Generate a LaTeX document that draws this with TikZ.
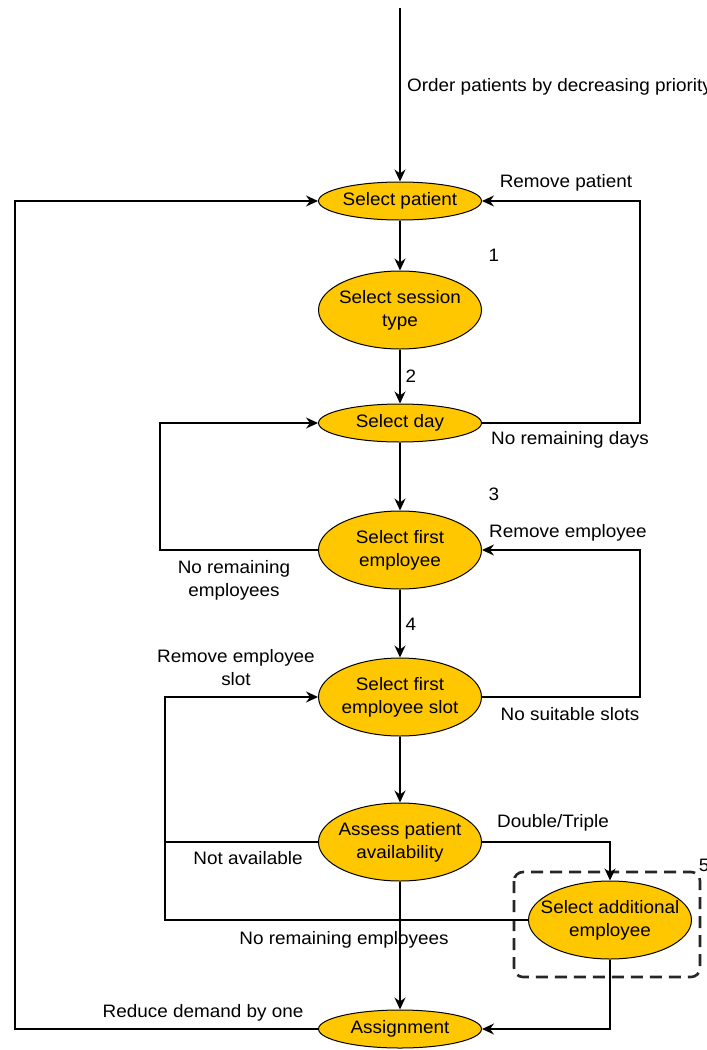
\documentclass[tikz,border=0pt]{standalone}
\usepackage{fontspec}
\setmainfont[FakeStretch=1.05]{Liberation Sans}
\usetikzlibrary{shapes.geometric,arrows.meta}
\definecolor{stepfill}{RGB}{255,199,0}
\begin{document}
\begin{tikzpicture}[x=1pt,y=-1pt,
  stage/.style={ellipse, draw=black, line width=1pt, fill=stepfill,
    minimum width=163pt, minimum height=78pt, inner sep=0pt},
  flat/.style={stage, minimum height=38pt},
  lbl/.style={font=\fontsize{18}{23}\selectfont, align=center, inner sep=0pt},
  flow/.style={line width=1.2pt, -{Stealth[length=12pt,width=11pt,inset=4pt]}},
  link/.style={line width=1.2pt},
  groupbox/.style={draw=black!85, line width=2.6pt, dash pattern=on 12pt off 7pt,
    rounded corners=9pt}]
\useasboundingbox (0,0) rectangle (707,1050);

% helper columns for the loop-back lines
\coordinate (src)  at (400,8);
\coordinate (rcol) at (640,0);
\coordinate (lcol) at (160,0);
\coordinate (mcol) at (165,0);
\coordinate (ocol) at (15,0);

% group frame around the optional step
\draw[groupbox] (514,872) rectangle (700,977);

% process steps
\node[flat]  (pat)  at (400,201)  {};
\node[stage] (ses)  at (400,310)  {};
\node[flat]  (day)  at (400,423)  {};
\node[stage] (emp)  at (400,550)  {};
\node[stage] (slot) at (400,697)  {};
\node[stage] (ass)  at (400,842)  {};
\node[stage] (add)  at (610,920)  {};
\node[flat]  (fin)  at (400,1029) {};

\node[lbl] (pat-t)  at (pat)  {Select patient};
\node[lbl] (ses-t)  at (ses)  {Select session\\type};
\node[lbl] (day-t)  at (day)  {Select day};
\node[lbl] (emp-t)  at (emp)  {Select first\\employee};
\node[lbl] (slot-t) at (slot) {Select first\\employee slot};
\node[lbl] (ass-t)  at (ass)  {Assess patient\\availability};
\node[lbl] (add-t)  at (add)  {Select additional\\employee};
\node[lbl] (fin-t)  at (fin)  {Assignment};

% main flow
\draw[flow] (src) -- (pat.north);
\draw[flow] (pat.south) -- (ses.north);
\draw[flow] (ses.south) -- (day.north);
\draw[flow] (day.south) -- (emp.north);
\draw[flow] (emp.south) -- (slot.north);
\draw[flow] (slot.south) -- (ass.north);
\draw[flow] (ass.south) -- (fin.north);

% loops
\draw[flow] (day.east) -- (day.east -| rcol) -- (pat.east -| rcol) -- (pat.east);
\draw[flow] (emp.west) -- (emp.west -| lcol) -- (day.west -| lcol) -- (day.west);
\draw[flow] (slot.east) -- (slot.east -| rcol) -- (emp.east -| rcol) -- (emp.east);
\draw[flow] (ass.west) -- (ass.west -| mcol) -- (slot.west -| mcol) -- (slot.west);
\draw[link] (add.west) -- (add.west -| mcol) -- (ass.west -| mcol);
\draw[flow] (ass.east) -| (add.north);
\draw[flow] (add.south) |- (fin.east);
\draw[flow] (fin.west) -- (fin.west -| ocol) -- (pat.west -| ocol) -- (pat.west);

% edge labels
\node[lbl, anchor=west] (l-order) at (407,87) {Order patients by decreasing priority};
\node[lbl] (l-rpat)  at (566,183) {Remove patient};
\node[lbl] (l-n1)    at (494,255) {1};
\node[lbl] (l-n2)    at (411,376) {2};
\node[lbl] (l-days)  at (570,440) {No remaining days};
\node[lbl] (l-n3)    at (494,494) {3};
\node[lbl] (l-remp)  at (568,533) {Remove employee};
\node[lbl] (l-nemp)  at (234,580) {No remaining\\employees};
\node[lbl] (l-n4)    at (411,624) {4};
\node[lbl] (l-rslot) at (236,668) {Remove employee\\slot};
\node[lbl] (l-nsl)   at (570,714) {No suitable slots};
\node[lbl] (l-dbl)   at (553,823) {Double/Triple};
\node[lbl] (l-nav)   at (248,858) {Not available};
\node[lbl] (l-n5)    at (704,865) {5};
\node[lbl] (l-nrem)  at (344,940) {No remaining employees};
\node[lbl] (l-red)   at (203,1013) {Reduce demand by one};
\end{tikzpicture}
\end{document}
